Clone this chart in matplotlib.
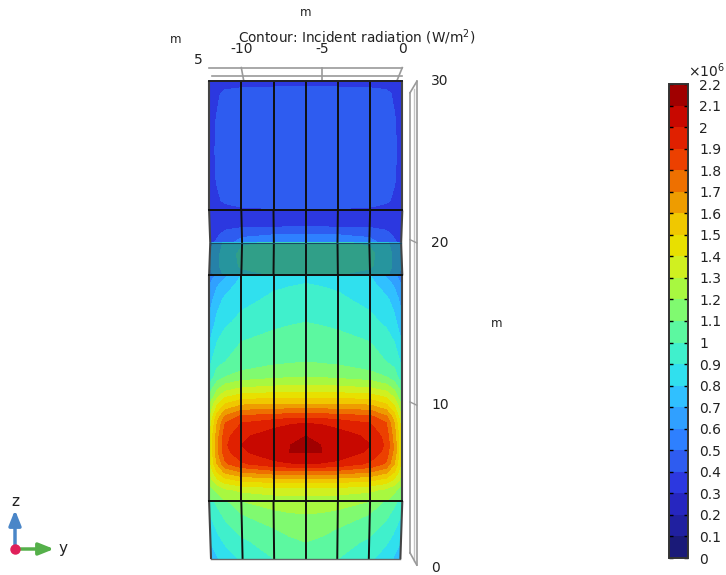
#!/usr/bin/env python
import numpy as np
import matplotlib
matplotlib.use('Agg')
import matplotlib.pyplot as plt
from matplotlib.colors import ListedColormap, BoundaryNorm

# contour levels and band colours, in units of 1e6 W/m2
levels = [i / 10 for i in range(23)]
band_colors = ['#1a1a78', '#2020a0', '#2626c0', '#2c38e0', '#2e5cf0', '#2e80ff',
               '#30a0ff', '#30c0ff', '#30e0ee', '#40f0cc', '#5cf8a0', '#80fa70',
               '#a8f840', '#d0f020', '#e8e000', '#f0c800', '#ee9c00', '#ee7000',
               '#ec4000', '#e02000', '#c80800', '#a00000']
cbar_labels = ['0', '0.1', '0.2', '0.3', '0.4', '0.5', '0.6', '0.7', '0.8', '0.9', '1', '1.1',
               '1.2', '1.3', '1.4', '1.5', '1.6', '1.7', '1.8', '1.9', '2', '2.1', '2.2']

# y positions of the table columns, left half of the symmetric wall (m)
half_y = [-12, -11.5, -11, -10, -8, -7, -6]
panel_y = [-12, -10, -8, -6, -4, -2, 0]

top_z = [30, 29.6, 29.2, 27.6, 25.7, 23.9, 22.6, 22]
top_vals = [[.33, .34, .35, .36, .37, .375, .375],
            [.33, .36, .38, .395, .40, .405, .405],
            [.33, .38, .43, .44, .44, .44, .44],
            [.34, .41, .44, .45, .45, .45, .45],
            [.35, .42, .44, .45, .45, .45, .45],
            [.34, .41, .44, .45, .45, .45, .45],
            [.33, .38, .42, .44, .44, .44, .44],
            [.31, .33, .35, .38, .39, .40, .40]]

upper_z = [22, 21, 20.5, 20]
upper_vals = [[.30, .30, .31, .31, .32, .33, .33],
              [.33, .35, .37, .39, .39, .40, .40],
              [.36, .39, .44, .48, .50, .50, .50],
              [.38, .42, .47, .54, .56, .57, .57]]

band_z = [20, 19.3, 18.6, 18]
band_vals = [[.68, .74, .85, .89, .91, .92, .92],
             [.70, .78, .86, .92, .93, .93, .93],
             [.70, .78, .86, .91, .93, .93, .93],
             [.66, .74, .82, .88, .90, .90, .90]]

main_z = [18, 17.5, 16.5, 15.1, 13.9, 12.66, 11.74, 10.94, 10.07, 9.27,
          8.9, 8.1, 7.55, 7.1, 6.38, 5.88, 5.39, 4.78, 4.1]
main_vals = [[.55, .62, .68, .80, .85, .86, .87],
             [.58, .68, .74, .83, .88, .89, .90],
             [.65, .76, .82, .87, .92, .94, .95],
             [.72, .83, .88, .93, .98, .99, 1.0],
             [.79, .90, .95, 1.0, 1.03, 1.05, 1.05],
             [.87, .97, 1.0, 1.03, 1.08, 1.09, 1.1],
             [.93, 1.05, 1.1, 1.15, 1.18, 1.19, 1.2],
             [1.05, 1.2, 1.28, 1.33, 1.35, 1.36, 1.36],
             [1.18, 1.38, 1.5, 1.58, 1.6, 1.6, 1.6],
             [1.28, 1.55, 1.72, 1.83, 1.85, 1.87, 1.87],
             [1.32, 1.6, 1.8, 1.9, 1.96, 1.99, 2.0],
             [1.38, 1.65, 1.86, 1.98, 2.05, 2.06, 2.1],
             [1.38, 1.67, 1.88, 2.0, 2.07, 2.095, 2.16],
             [1.38, 1.67, 1.86, 1.98, 2.07, 2.10, 2.102],
             [1.35, 1.6, 1.78, 1.88, 1.97, 1.99, 2.0],
             [1.3, 1.5, 1.62, 1.7, 1.75, 1.76, 1.76],
             [1.25, 1.38, 1.46, 1.52, 1.55, 1.56, 1.56],
             [1.15, 1.22, 1.28, 1.32, 1.35, 1.36, 1.36],
             [1.08, 1.15, 1.2, 1.22, 1.24, 1.25, 1.25]]

bottom_z = [4.1, 3.3, 2.43, 1.57, .52]
bottom_vals = [[.95, 1.03, 1.08, 1.2, 1.26, 1.28, 1.29],
               [.90, .97, 1.03, 1.1, 1.17, 1.19, 1.2],
               [.85, .92, .97, 1.04, 1.1, 1.13, 1.15],
               [.80, .87, .92, .98, 1.05, 1.08, 1.1],
               [.72, .80, .85, .92, 1.0, 1.02, 1.04]]

z_ticks = [0, 10, 20, 30]
y_ticks = [-10, -5, 0]

W, H = 726, 575
PX_Y, PX_Z = 16.1, 16.23
X0, Z0 = 402.3, 567.5  # pixel position of y=0, z=0
NARROW = .988


def warped(y, z, z_knots, factors):
    # the wall panels narrow a little towards some edges
    return -6 + (y + 6) * np.interp(z, z_knots, factors)


fig = plt.figure(figsize=(W / 100, H / 100), dpi=100)
ax = fig.add_axes([0, 0, 1, 1])
ax.set_xlim(-X0 / PX_Y, (W - X0) / PX_Y)
ax.set_ylim((Z0 - H) / PX_Z, Z0 / PX_Z)
ax.axis('off')

cmap = ListedColormap(band_colors)
norm = BoundaryNorm(levels, cmap.N)

sections = [
    (top_z, top_vals, [22, 30], [1, 1]),
    (upper_z, upper_vals, [20, 22], [NARROW, 1]),
    (band_z, band_vals, [18, 20], [1, NARROW]),
    (main_z, main_vals, [4, 18], [1, 1]),
    (bottom_z, bottom_vals, [.52, 4.1], [.98, 1]),
]
full_y = np.array(half_y + [-12 - v for v in half_y[-2::-1]], dtype=float)
for z_list, half_vals, knots, factors in sections:
    half = np.array(half_vals)
    vals = np.hstack([half, half[:, -2::-1]])
    Y, Z = np.meshgrid(full_y, z_list)
    ax.contourf(warped(Y, Z, knots, factors), Z, vals, levels=levels, cmap=cmap, norm=norm, zorder=1)

# darker translucent band over the window strip
strip_z = np.array([18, 20.04])
ax.fill_betweenx(strip_z, warped(-12, strip_z, [18, 20], [1, NARROW]), warped(0, strip_z, [18, 20], [1, NARROW]),
                 color='#151515', alpha=0.37, lw=0, zorder=2)

# panel grid
for knots, factors, z0, z1 in [([22, 30], [1, 1], 22, 30), ([20, 22], [NARROW, 1], 20, 22),
                               ([18, 20], [1, NARROW], 18, 20), ([4, 18], [1, 1], 4.1, 18),
                               ([.52, 4.1], [.98, 1], .52, 4.1)]:
    for y in panel_y:
        xs = warped(y, np.array([z0, z1]), knots, factors)
        edge = y in (-12, 0)
        ax.plot(xs, [z0, z1], color='#444444' if edge else '#101010', lw=1.5 if edge else 1.4,
                solid_capstyle='butt', zorder=3)
for z, col, lw in [(30, '#222222', 1.4), (22, '#101010', 1.4), (18, '#101010', 1.4),
                   (4.1, '#101010', 1.4), (.52, '#666666', 1.0)]:
    w = .98 if z == .52 else 1
    ax.plot(warped(np.array([-12, 0]), z, [0, 1], [w, w]), [z, z], color=col, lw=lw, zorder=3)
ax.plot(warped(np.array([-12, 0]), 20, [0, 1], [NARROW, NARROW]), [20, 20], color='#1a4a60', lw=0.8, zorder=3)

# grey box behind the wall
gray = '#9a9a9a'
ax.plot([-12, 0], [30.8, 30.8], color=gray, lw=1.2, zorder=0)
ax.plot([-11.8, 0], [30.3, 30.3], color=gray, lw=1.2, zorder=0)
ax.plot([0, -.33], [30.8, 30.0], color=gray, lw=1.2, zorder=0)
ax.plot([-5, -5], [30.8, 30.0], color=gray, lw=1.2, zorder=0)
ax.plot([-10, -9.85], [30.8, 30.0], color=gray, lw=1.2, zorder=0)
ax.plot([.48, .48], [29.25, .9], color=gray, lw=1.2, zorder=0)
ax.plot([.7, .7], [29.5, .4], color='#c4c4c4', lw=1.0, zorder=0)
ax.plot([.9, .9], [29.95, .15], color=gray, lw=1.2, zorder=0)
ax.plot([.48, .9], [29.25, 29.95], color=gray, lw=1.2, zorder=0)
ax.plot([.48, .9], [.9, .15], color=gray, lw=1.2, zorder=0)
for z in z_ticks[1:3]:
    ax.plot([.48, .9], [z + .2, z], color=gray, lw=1.0, zorder=0)

# axis texts
fs = 10
for y in y_ticks:
    ax.text(y, 31.92, str(y), ha='center', va='center', fontsize=fs, color='#222222')
ax.text(-12.7, 31.25, '5', ha='center', va='center', fontsize=fs, color='#222222')
for z in z_ticks:
    ax.text(2.35 if z else 2.05, z, str(z), ha='center', va='center', fontsize=fs, color='#222222')
ax.text(-6, 34.2, 'm', ha='center', va='center', fontsize=8.5, color='#222222')
ax.text(-14.1, 32.55, 'm', ha='center', va='center', fontsize=8.5, color='#222222')
ax.text(5.85, 15.05, 'm', ha='center', va='center', fontsize=8.5, color='#222222')
fig.text(357 / W, 1 - 37 / H, 'Contour: Incident radiation (W/m$^2$)', ha='center', va='center',
         fontsize=9.8, color='#222222')

# colour bar
cax = fig.add_axes([669 / W, 17 / H, 19 / W, 474 / H])
sm = plt.cm.ScalarMappable(norm=norm, cmap=cmap)
cb = fig.colorbar(sm, cax=cax, ticks=levels, spacing='uniform')
cb.set_ticklabels(cbar_labels)
cb.ax.tick_params(length=3, width=1, direction='in', left=True, right=True, labelsize=10,
                  pad=8, labelcolor='#222222')
cb.outline.set_edgecolor('#333333')
cb.outline.set_linewidth(1.4)
fig.text(706 / W, 1 - 71 / H, '×10$^6$', ha='center', va='center', fontsize=10, color='#222222')

# orientation triad
origin = (15, H - 549)
head = '-|>,head_width=0.3,head_length=0.75'
ax.annotate('', xy=(15, H - 510), xytext=origin, xycoords='figure pixels', textcoords='figure pixels',
            arrowprops=dict(arrowstyle=head, color='#4a86c8', lw=2.5, shrinkA=0, shrinkB=0, mutation_scale=12))
ax.annotate('', xy=(54, H - 549), xytext=origin, xycoords='figure pixels', textcoords='figure pixels',
            arrowprops=dict(arrowstyle=head, color='#55b04a', lw=2.5, shrinkA=0, shrinkB=0, mutation_scale=12))
ax.plot(-(X0 - 15) / PX_Y, (Z0 - 549) / PX_Z, 'o', color='#e0205a', ms=6.5, zorder=5, clip_on=False)
fig.text(15 / W, 1 - 502 / H, 'z', ha='center', va='center', fontsize=11, color='#222222')
fig.text(63 / W, 1 - 548 / H, 'y', ha='center', va='center', fontsize=11, color='#222222')

fig.savefig('out.png', dpi=100)
